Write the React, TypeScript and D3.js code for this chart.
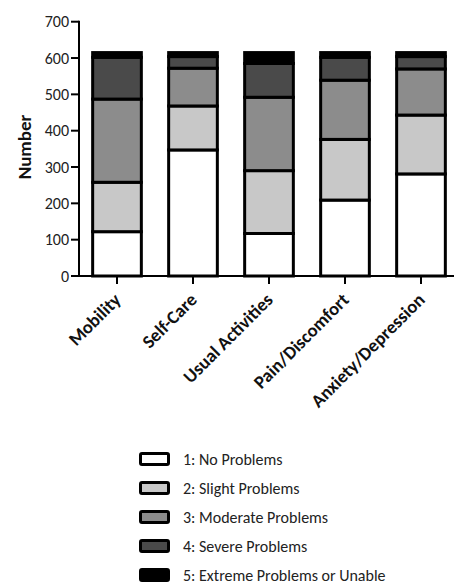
import React from "react";
import * as d3 from "d3";

const categories = ["Mobility", "Self-Care", "Usual Activities", "Pain/Discomfort", "Anxiety/Depression"];
const seriesNames = ["1: No Problems", "2: Slight Problems", "3: Moderate Problems", "4: Severe Problems", "5: Extreme Problems or Unable"];
const level1 = [122, 347, 117, 209, 281];
const level2 = [136, 121, 173, 167, 162];
const level3 = [229, 104, 202, 163, 127];
const level4 = [115, 32, 93, 63, 34];
const level5 = [13, 11, 30, 13, 11];
const yTicks = [0, 100, 200, 300, 400, 500, 600, 700];
const colors = ["#ffffff", "#c8c8c8", "#8c8c8c", "#4a4a4a", "#000000"];

const FONT = "Carlito, Lato, 'Open Sans', sans-serif";

export default function App() {
  const W = 454, H = 584;
  const x0 = 79, y0 = 276, yTop = 21.7;
  const x = d3.scaleBand<string>().domain(categories).range([x0, x0 + 76 * 5]).paddingInner(0.32).paddingOuter(0.16);
  const y = d3.scaleLinear().domain([0, 700]).range([y0, yTop]);
  const data = categories.map((c, i) => ({
    cat: c,
    l0: level1[i], l1: level2[i], l2: level3[i], l3: level4[i], l4: level5[i],
  }));
  const stack = d3.stack<any>().keys(["l0", "l1", "l2", "l3", "l4"]);
  const series = stack(data);
  const sw = 3;

  return (
    <svg width={W} height={H} style={{ position: "absolute", left: 0, top: 0, background: "#fff" }}>
      {series.map((s, si) => (
        <g key={si}>
          {s.map((d, di) => (
            <rect
              key={di}
              x={x(categories[di])! + sw / 2}
              y={y(d[1])}
              width={x.bandwidth() - sw}
              height={y(d[0]) - y(d[1])}
              fill={colors[si]}
              stroke="#000"
              strokeWidth={sw}
            />
          ))}
        </g>
      ))}
      <line x1={x0} x2={x0} y1={yTop - 1} y2={y0 + 1} stroke="#000" strokeWidth={2} />
      <line x1={71} x2={W} y1={y0} y2={y0} stroke="#000" strokeWidth={2} />
      {yTicks.map((t) => (
        <g key={t}>
          <line x1={71} x2={x0} y1={y(t)} y2={y(t)} stroke="#000" strokeWidth={2} />
          <text x={69} y={y(t)} dy="0.36em" textAnchor="end" fontFamily={FONT} fontSize={16} fill="#222">{t}</text>
        </g>
      ))}
      {categories.map((c) => {
        const cx = x(c)! + x.bandwidth() / 2;
        return (
          <g key={c}>
            <line x1={cx} x2={cx} y1={y0} y2={y0 + 8} stroke="#000" strokeWidth={2} />
            <text
              transform={`translate(${cx + 5},${y0 + 25}) rotate(-45)`}
              textAnchor="end"
              fontFamily={FONT}
              fontWeight="bold"
              fontSize={18.5}
              fill="#111"
            >{c}</text>
          </g>
        );
      })}
      <text transform={`translate(31,147) rotate(-90)`} textAnchor="middle" fontFamily={FONT} fontWeight="bold" fontSize={19} fill="#111">Number</text>
      {seriesNames.map((n, i) => {
        const cy = 459 + i * 29;
        return (
          <g key={n}>
            <rect x={140.5} y={cy - 5.5} width={28} height={11} fill={colors[i]} stroke="#000" strokeWidth={3} rx={1.5} />
            <text x={183} y={cy} dy="0.36em" fontFamily={FONT} fontSize={16} fill="#222">{n}</text>
          </g>
        );
      })}
    </svg>
  );
}
